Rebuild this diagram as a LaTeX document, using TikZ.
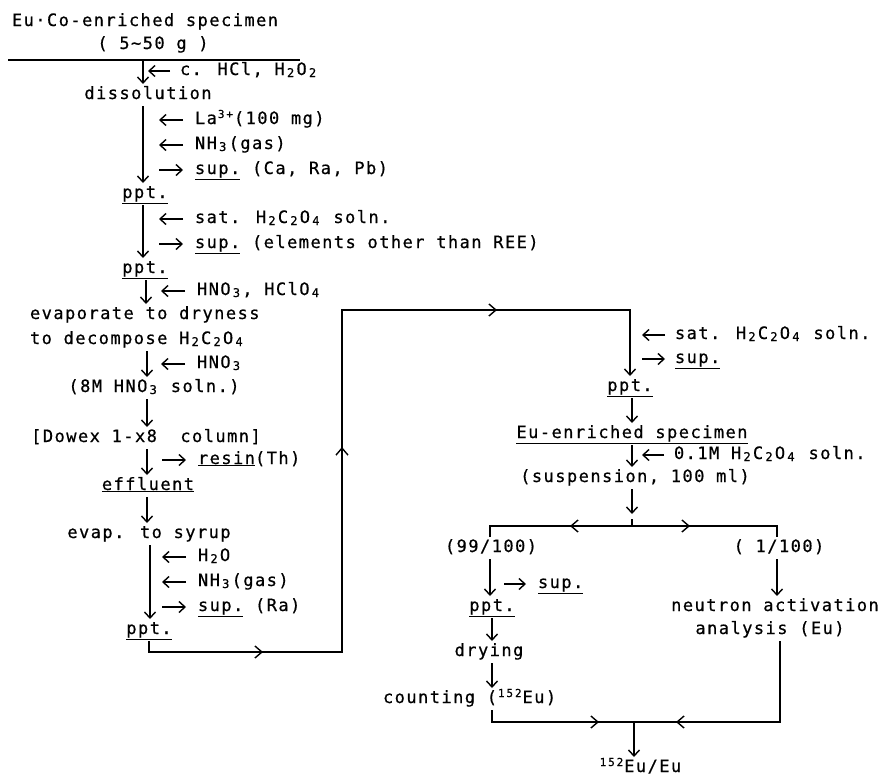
\documentclass[tikz,border=0pt]{standalone}
\usepackage{fontspec}
\setmainfont[LetterSpace=8.6,FakeBold=0.6]{DejaVu Sans Mono}
\usetikzlibrary{arrows.meta}
\newcommand\mysub[1]{\makebox[11.7pt][c]{\raisebox{-2pt}{\fontsize{12}{12}\selectfont#1}}}
\newcommand\mysup[1]{\makebox[8.5pt][c]{\raisebox{6pt}{\fontsize{11}{11}\selectfont#1}}}
\begin{document}
\begin{tikzpicture}[x=1pt,y=-1pt,
  font=\fontsize{17}{20}\selectfont,
  t/.style={inner sep=0pt,outer sep=3pt,text height=12pt,text depth=4pt},
  lab/.style={t,anchor=west,outer sep=0pt},
  ln/.style={line width=1.4pt},
  arr/.style={ln,-{Straight Barb[length=6pt,width=11pt]}},
  mid/.style={ln,-{Straight Barb[length=7pt,width=12pt]}}]
\fill[white] (0,0) rectangle (884,779);
\useasboundingbox (0,0) rectangle (884,779);
% axes
\coordinate (ax1) at (143,0);
\coordinate (ax2) at (146,0);
\coordinate (ax3) at (147,0);
\coordinate (ax4) at (150,0);
\coordinate (axR) at (632,0);
\coordinate (axA) at (490,0);
\coordinate (axB) at (777,0);
% ---------------- left column
\node[t] (n1) at (145,22) {Eu·Co-enriched specimen};
\node[t] (n2) at (153,45) {( 5∼50 g )};
\coordinate (rl) at (8,60);
\coordinate (rr) at (300,60);
\draw[ln] (rl) -- (rr);
\coordinate (r0) at (143,61);
\node[t] (n3) at (148,95) {dissolution};
\draw[arr] (r0) -- (n3.north -| ax1);
\node[lab] (l1) at (180,71) {c. HCl, H\mysub{2}O\mysub{2}};
\draw[arr] ([xshift=-10pt]l1.west) -- ++(-22pt,0);
\node[t] (n4) at (145,194) {\underline{ppt.}};
\draw[arr] (n3.south -| ax1) -- (n4.north -| ax1);
\node[lab] (l2) at (195,120) {La\mysup{3}\mysup{+}(100 mg)};
\node[lab] (l3) at (195,145) {NH\mysub{3}(gas)};
\node[lab] (l4) at (195,170) {\underline{sup.} (Ca, Ra, Pb)};
\draw[arr] ([xshift=-12pt]l2.west) -- ++(-24pt,0);
\draw[arr] ([xshift=-12pt]l3.west) -- ++(-24pt,0);
\draw[arr] ([xshift=-36pt]l4.west) -- ++(24pt,0);
\node[t] (n5) at (145,269) {\underline{ppt.}};
\draw[arr] (n4.south -| ax1) -- (n5.north -| ax1);
\node[lab] (l5) at (195,219) {sat. H\mysub{2}C\mysub{2}O\mysub{4} soln.};
\node[lab] (l6) at (195,244) {\underline{sup.} (elements other than REE)};
\draw[arr] ([xshift=-12pt]l5.west) -- ++(-24pt,0);
\draw[arr] ([xshift=-36pt]l6.west) -- ++(24pt,0);
\node[t,anchor=west] (n6) at (27,315) {evaporate to dryness};
\node[t,anchor=west] (n7) at (27,340) {to decompose H\mysub{2}C\mysub{2}O\mysub{4}};
\draw[arr] (n5.south -| ax2) -- (n6.north -| ax2);
\node[lab] (l7) at (197,291) {HNO\mysub{3}, HClO\mysub{4}};
\draw[arr] ([xshift=-12pt]l7.west) -- ++(-24pt,0);
\node[t] (n8) at (154,388) {(8M HNO\mysub{3} soln.)};
\draw[arr] (n7.south -| ax3) -- (n8.north -| ax3);
\node[lab] (l8) at (197,364) {HNO\mysub{3}};
\draw[arr] ([xshift=-12pt]l8.west) -- ++(-24pt,0);
\node[t] (n9) at (146,438) {[Dowex 1-x8~ column]};
\draw[arr] (n8.south -| ax3) -- (n9.north -| ax3);
\node[t] (n10) at (148,486) {\underline{effluent}};
\draw[arr] (n9.south -| ax3) -- (n10.north -| ax3);
\node[lab] (l9) at (198,460) {\underline{resin}(Th)};
\draw[arr] ([xshift=-36pt]l9.west) -- ++(24pt,0);
\node[t] (n11) at (149,534) {evap. to syrup};
\draw[arr] (n10.south -| ax3) -- (n11.north -| ax3);
\node[t] (n12) at (149,630) {\underline{ppt.}};
\draw[arr] (n11.south -| ax4) -- (n12.north -| ax4);
\node[lab] (l10) at (198,557) {H\mysub{2}O};
\node[lab] (l11) at (198,582) {NH\mysub{3}(gas)};
\node[lab] (l12) at (198,607) {\underline{sup.} (Ra)};
\draw[arr] ([xshift=-12pt]l10.west) -- ++(-24pt,0);
\draw[arr] ([xshift=-12pt]l11.west) -- ++(-24pt,0);
\draw[arr] ([xshift=-36pt]l12.west) -- ++(24pt,0);
% ---------------- long connector
\coordinate (k1) at (149,652);
\coordinate (k2) at (342,652);
\coordinate (k3) at (342,310);
\coordinate (k4) at (630,310);
\node[t] (m1) at (630,387) {\underline{ppt.}};
\draw[arr] (n12.south -| k1) -- (k1) -- (k2) -- (k3) -- (k4) -- (m1.north -| k4);
\draw[mid] (246,652) -- (263,652);
\draw[mid] (342,464) -- (342,447);
\draw[mid] (480,310) -- (497,310);
% ---------------- right column
\node[lab] (l13) at (675,335) {sat. H\mysub{2}C\mysub{2}O\mysub{4} soln.};
\node[lab] (l14) at (675,359) {\underline{sup.}};
\draw[arr] ([xshift=-10pt]l13.west) -- ++(-23pt,0);
\draw[arr] ([xshift=-33pt]l14.west) -- ++(23pt,0);
\node[t] (m2) at (632,434) {\underline{Eu-enriched specimen}};
\draw[arr] (m1.south -| axR) -- (m2.north -| axR);
\node[t] (m3) at (635,478) {(suspension, 100 ml)};
\draw[arr] (m2.south -| axR) -- (m3.north -| axR);
\node[lab] (l15) at (674,455) {0.1M H\mysub{2}C\mysub{2}O\mysub{4} soln.};
\draw[arr] ([xshift=-10pt]l15.west) -- ++(-22pt,0);
\coordinate (s0) at (632,514);
\draw[arr] (m3.south -| axR) -- (s0);
\coordinate (s1) at (632,519);
\coordinate (s2) at (632,526);
\node[t] (m4) at (491,548) {(99/100)};
\node[t] (m5) at (779,548) {( 1/100)};
\draw[ln] (s1) -- (s2);
\draw[ln] (m4.north -| axA) -- (axA |- s2) -- (axB |- s2) -- (m5.north -| axB);
\draw[mid] (586,526) -- (570,526);
\draw[mid] (674,526) -- (690,526);
\node[t] (m6) at (492,607) {\underline{ppt.}};
\draw[arr] (m4.south -| axA) -- (m6.north -| axA);
\node[lab] (l16) at (538,584) {\underline{sup.}};
\draw[arr] ([xshift=-34pt]l16.west) -- ++(22pt,0);
\node[t] (m7) at (489,652) {drying};
\draw[arr] (m6.south -| 492,0) -- (m7.north -| 492,0);
\node[t,anchor=west] (m8) at (380,699) {counting (\mysup{1}\mysup{5}\mysup{2}Eu)};
\draw[arr] (m7.south -| 492,0) -- (m8.north -| 492,0);
\node[t] (m10) at (775,607) {neutron activation};
\node[t] (m11) at (770,630) {analysis (Eu)};
\draw[arr] (m5.south -| axB) -- (m10.north -| axB);
\coordinate (b0) at (634,722);
\node[t] (m9) at (640,768) {\mysup{1}\mysup{5}\mysup{2}Eu/Eu};
\draw[ln] (m8.south -| 492,0) -- (492,722) -- (b0);
\draw[ln] (m11.south -| 780,0) -- (780,722) -- (b0);
\draw[mid] (583,722) -- (599,722);
\draw[mid] (692,722) -- (676,722);
\draw[arr] (b0) -- (m9.north -| b0);
\end{tikzpicture}
\end{document}
